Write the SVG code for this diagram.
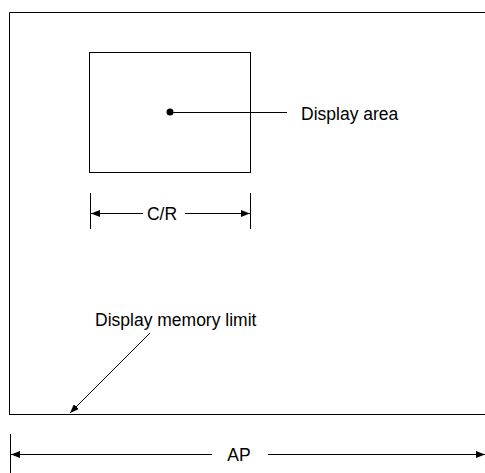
<svg xmlns="http://www.w3.org/2000/svg" width="485" height="473" viewBox="0 0 485 473">
<style>
.l{stroke:#000;stroke-width:1;fill:none}
.t{font-family:"Liberation Sans",Arial,sans-serif;font-size:17.5px;fill:#000}
</style>
<defs>
<marker id="ah" markerWidth="9" markerHeight="7" refX="9" refY="3.5" orient="auto-start-reverse" markerUnits="userSpaceOnUse">
<path d="M0,0 L9,3.5 L0,7 Z" fill="#000"/>
</marker>
</defs>
<g id="memory">
<path class="l" d="M9.5,414 V12.5 H485"/>
<line class="l" x1="9" y1="414.5" x2="485" y2="414.5"/>
</g>
<g id="display-area">
<rect class="l" x="89.5" y="52.5" width="161" height="120"/>
<circle cx="170" cy="112" r="3.5" fill="#000"/>
<text class="t" x="301" y="119.5">Display area</text>
</g>
<g id="cr">
<text class="t" x="162" y="219.5" text-anchor="middle">C/R</text>
</g>
<g id="limit-label">
<text class="t" x="95" y="326">Display memory limit</text>
</g>
<g id="ap">
<text class="t" x="239" y="460.5" text-anchor="middle">AP</text>
</g>
<g id="connectors">
<line class="l" x1="170" y1="112.5" x2="287" y2="112.5"/>
<line class="l" x1="90.5" y1="193" x2="90.5" y2="229"/>
<line class="l" x1="250.5" y1="193" x2="250.5" y2="229"/>
<line class="l" x1="143" y1="213.5" x2="91" y2="213.5" marker-end="url(#ah)"/>
<line class="l" x1="185" y1="213.5" x2="250" y2="213.5" marker-end="url(#ah)"/>
<line class="l" x1="150" y1="333" x2="70" y2="413" marker-end="url(#ah)"/>
<line class="l" x1="10.5" y1="434" x2="10.5" y2="473"/>
<line class="l" x1="212" y1="454.5" x2="11" y2="454.5" marker-end="url(#ah)"/>
<line class="l" x1="268" y1="454.5" x2="485" y2="454.5" marker-end="url(#ah)"/>
</g>
</svg>
